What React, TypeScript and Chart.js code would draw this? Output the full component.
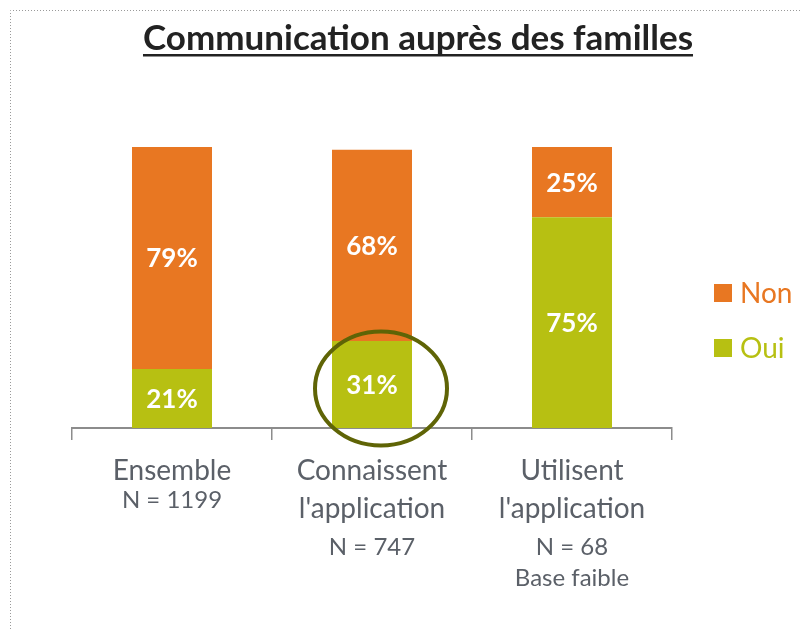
import React, { useEffect, useRef } from "react";
import { Chart, registerables } from "chart.js";

Chart.register(...registerables);

const categories = ["Ensemble", "Connaissent l'application", "Utilisent l'application"];
const categoryMainLines = [["Ensemble"], ["Connaissent", "l'application"], ["Utilisent", "l'application"]];
const categorySubLines = [["N = 1199"], ["N = 747"], ["N = 68", "Base faible"]];
const ouiValues = [21, 31, 75];
const nonValues = [79, 68, 25];
const seriesNames = ["Oui", "Non"];
const titleText = "Communication auprès des familles";

const ORANGE = "#E87722";
const GREEN = "#B7C012";
const FONT = "Lato, 'Open Sans', sans-serif";

const overlayPlugin = {
  id: "overlay",
  afterDraw(chart: any) {
    const ctx = chart.ctx as CanvasRenderingContext2D;
    const x = chart.scales.x;
    const y = chart.scales.y;
    ctx.save();

    // dotted frame
    ctx.strokeStyle = "#9a9a9a";
    ctx.lineWidth = 1;
    ctx.setLineDash([1, 2]);
    ctx.beginPath();
    ctx.moveTo(10.5, 629);
    ctx.lineTo(10.5, 10.5);
    ctx.lineTo(802, 10.5);
    ctx.stroke();
    ctx.setLineDash([]);

    // title
    ctx.fillStyle = "#222222";
    ctx.font = `bold 35px ${FONT}`;
    ctx.textAlign = "center";
    ctx.textBaseline = "alphabetic";
    const tx = 418;
    const ty = 50;
    ctx.fillText(titleText, tx, ty);
    const w = ctx.measureText(titleText).width;
    ctx.fillRect(tx - w / 2, ty + 4, w, 2.5);

    // data labels
    ctx.fillStyle = "#ffffff";
    ctx.font = `bold 26px ${FONT}`;
    ctx.textBaseline = "middle";
    chart.data.datasets.forEach((ds: any, di: number) => {
      const meta = chart.getDatasetMeta(di);
      meta.data.forEach((bar: any, i: number) => {
        const cy = (bar.y + bar.base) / 2;
        ctx.fillText(ds.data[i] + "%", bar.x, cy + 1);
      });
    });

    // category labels
    ctx.fillStyle = "#5b6068";
    ctx.textBaseline = "alphabetic";
    categories.forEach((_, i) => {
      const cx = x.getPixelForValue(i);
      let yy = y.bottom + 52;
      ctx.font = `28px ${FONT}`;
      categoryMainLines[i].forEach((line) => {
        ctx.fillText(line, cx, yy);
        yy += 38;
      });
      ctx.font = `24px ${FONT}`;
      if (categoryMainLines[i].length === 1) yy -= 10;
      else yy -= 1;
      categorySubLines[i].forEach((line) => {
        ctx.fillText(line, cx, yy);
        yy += 31;
      });
    });

    // highlight ellipse
    const cx1 = x.getPixelForValue(1) + 9;
    const cyo = y.getPixelForValue(ouiValues[1] / 2) + 4;
    ctx.strokeStyle = "#5f6406";
    ctx.lineWidth = 4;
    ctx.beginPath();
    ctx.ellipse(cx1, cyo, 66, 57, 0, 0, Math.PI * 2);
    ctx.stroke();

    // legend
    ctx.font = `28px ${FONT}`;
    ctx.textAlign = "left";
    ctx.textBaseline = "middle";
    const legend = [
      { name: seriesNames[1], color: ORANGE, y: 293 },
      { name: seriesNames[0], color: GREEN, y: 348 },
    ];
    legend.forEach((l) => {
      ctx.fillStyle = l.color;
      ctx.fillRect(714, l.y - 9, 18, 18);
      ctx.fillText(l.name, 740, l.y + 1);
    });

    ctx.restore();
  },
};

export default function App() {
  const ref = useRef<HTMLCanvasElement>(null);
  useEffect(() => {
    if (!ref.current) return;
    const chart = new Chart(ref.current, {
      type: "bar",
      data: {
        labels: categories,
        datasets: [
          { label: seriesNames[0], data: ouiValues, backgroundColor: GREEN, categoryPercentage: 0.4, barPercentage: 1 },
          { label: seriesNames[1], data: nonValues, backgroundColor: ORANGE, categoryPercentage: 0.4, barPercentage: 1 },
        ],
      },
      options: {
        animation: false,
        responsive: false,
        maintainAspectRatio: false,
        layout: { padding: { left: 72, right: 130, top: 147, bottom: 0 } },
        plugins: { legend: { display: false }, title: { display: false }, tooltip: { enabled: false } },
        scales: {
          x: {
            stacked: true,
            ticks: { display: false },
            grid: { offset: true, drawOnChartArea: false, drawTicks: true, tickLength: 12, color: "#8c8c8c", lineWidth: 1.5 },
            border: { display: true, color: "#8c8c8c", width: 2 },
            afterFit: (scale: any) => { scale.height = 201; },
          },
          y: { stacked: true, display: false, min: 0, max: 100 },
        },
      },
      plugins: [overlayPlugin],
    });
    return () => chart.destroy();
  }, []);
  return (
    <div style={{ position: "absolute", left: 0, top: 0, width: 802, height: 629, background: "#fff" }}>
      <canvas ref={ref} width={802} height={629} style={{ width: 802, height: 629 }} />
    </div>
  );
}
